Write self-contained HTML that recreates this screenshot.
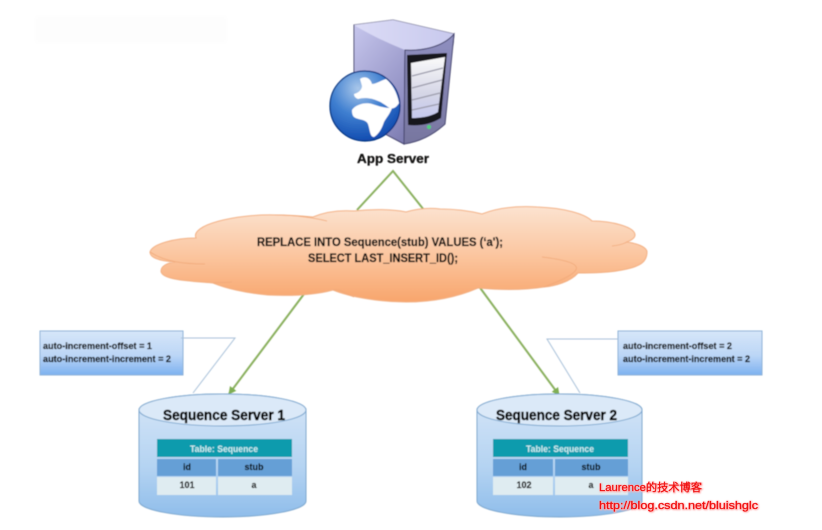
<!DOCTYPE html>
<html><head><meta charset="utf-8"><style>
html,body{margin:0;padding:0;background:#fff;width:822px;height:530px;overflow:hidden}
svg{display:block}
text{font-family:"Liberation Sans","Noto Sans CJK SC",sans-serif}
</style></head><body>
<svg width="822" height="530" viewBox="0 0 822 530" xmlns="http://www.w3.org/2000/svg">
<defs>
<linearGradient id="cl" x1="0" y1="0" x2="0" y2="1"><stop offset="0" stop-color="#fce3d0"/><stop offset=".5" stop-color="#fbc6a0"/><stop offset="1" stop-color="#f8a56c"/></linearGradient>
<linearGradient id="bx" x1="0" y1="0" x2="0" y2="1"><stop offset="0" stop-color="#d6e6f9"/><stop offset=".55" stop-color="#bcd6f6"/><stop offset="1" stop-color="#7db1f0"/></linearGradient>
<linearGradient id="cy" x1="0" y1="0" x2="0" y2="1"><stop offset="0" stop-color="#d6e6f7"/><stop offset=".6" stop-color="#b4d3f2"/><stop offset="1" stop-color="#8fbdea"/></linearGradient>
<linearGradient id="sv" x1="0" y1="0" x2="1" y2="1"><stop offset="0" stop-color="#c8c8ee"/><stop offset=".6" stop-color="#8d8cc0"/><stop offset="1" stop-color="#5d5c90"/></linearGradient>
<linearGradient id="sf" x1="0" y1="0" x2="0" y2="1"><stop offset="0" stop-color="#8f8fc0"/><stop offset="1" stop-color="#77769f"/></linearGradient>
<linearGradient id="st" x1="0" y1="0" x2="1" y2="0"><stop offset="0" stop-color="#dcdcf6"/><stop offset="1" stop-color="#c8c9ee"/></linearGradient>
<linearGradient id="sc" x1="0" y1="0" x2="0" y2="1"><stop offset="0" stop-color="#fafafa"/><stop offset=".6" stop-color="#d5d6e6"/><stop offset="1" stop-color="#c5c8ee"/></linearGradient>
<radialGradient id="gl" cx=".4" cy=".25" r=".85"><stop offset="0" stop-color="#a9c7ea"/><stop offset=".45" stop-color="#3f7fd0"/><stop offset="1" stop-color="#063fa8"/></radialGradient>
<marker id="ar" markerWidth="10" markerHeight="10" refX="7" refY="4" orient="auto" markerUnits="userSpaceOnUse"><path d="M0 0L8 4L0 8Z" fill="#7fae52"/></marker>
<filter id="b" x="-5%" y="-5%" width="110%" height="110%"><feGaussianBlur stdDeviation=".4"/></filter>
<filter id="b2" x="-5%" y="-5%" width="110%" height="110%"><feGaussianBlur stdDeviation="2"/></filter>
<filter id="b3" x="-5%" y="-20%" width="110%" height="140%"><feGaussianBlur stdDeviation=".7"/></filter>
</defs>
<rect width="822" height="530" fill="#fff"/>
<rect x="35" y="16" width="192" height="27" fill="#fdfdfd" filter="url(#b2)"/>
<g filter="url(#b)">
<!-- server -->
<path d="M354 25L393 20L454 34L453 45C440 50 420 50 405 50L404 144L385 134L354 112Z" fill="url(#sv)" stroke="#45456e" stroke-width="1"/>
<path d="M354 25L393 20L454 34C445 46 420 51 405 50C385 42 365 32 354 25Z" fill="url(#st)"/>
<path d="M405 50C420 51 442 48 454 34L445 124C432 136 418 142 404 144Z" fill="url(#sf)" stroke="#45456e" stroke-width="1"/>
<path d="M407 55L447 53L441 118C430 125 418 126 408 125Z" fill="#15151f"/>
<path d="M411 63L445 57L438 112C430 117 420 118 412 118Z" fill="url(#sc)"/>
<g stroke="#9b9bab" stroke-width="1.2" fill="none"><path d="M412 76L443 68M412 88L442 80M412 100L440 93M412 110L439 104"/></g>
<circle cx="429" cy="127" r="2" fill="#4fd07e"/>
<!-- globe -->
<circle cx="365" cy="106" r="35" fill="url(#gl)" stroke="#06307e" stroke-width="1.2"/>
<path d="M360 79C364 76 370 77 372 84C376 84 382 80 386 79C392 84 397 92 399 103C396 108 392 110 388 107C384 104 381 102 378 101C372 98 364 97 358 99C356 98 354 97 354 94C358 93 362 90 362 86Z" fill="#fff"/>
<path d="M352 110C356 104 366 102 372 104C378 106 384 108 392 108C390 114 386 118 384 122C382 128 379 134 374 137C370 137 370 130 368 124C366 119 358 120 354 117C352 115 352 112 352 110Z" fill="#fff"/>
<!-- connectors -->
<g stroke="#8ab05f" stroke-width="2" fill="none">
<path d="M357 210L393 171L424 210"/>
<path d="M304 294L229 394" marker-end="url(#ar)"/>
<path d="M478 285L559 395" marker-end="url(#ar)"/>
</g>
<!-- cloud -->
<path d="M150 252C152 244 175 238 196 238C190 225 235 214 275 215C290 215 302 216 313 217C325 212 340 210 354 211C372 209 392 209 406 212C420 208 432 208 440 209C455 209 470 211 482 214C500 207 520 206 537 207C565 208 585 214 592 221C612 221 635 227 635 235C635 238 632 240 627 242C640 244 647 248 647 252C647 262 640 266 627 269C610 273 590 273 578 273C570 282 555 286 544 287C525 290 500 290 478 288C455 298 430 302 406 302C380 302 350 297 333 290C315 295 290 296 268 295C245 293 225 288 213 283C190 281 161 280 161 271C161 266 167 263 175 262C160 261 150 258 150 252Z" fill="url(#cl)" stroke="#f3b083" stroke-width="1"/>
<g fill="none" stroke="#f0a878" stroke-width=".8">
<path d="M275 215C295 215 315 218 327 221M150 252C165 262 185 264 205 264M213 283C225 282 220 283 232 282M333 290C340 288 345 294 354 297M544 287C590 270 585 262 542 257M627 242C625 243 622 245 612 246"/>
</g>
<g fill="#100c0a" stroke="#100c0a" stroke-width=".25" font-weight="bold">
<text x="257" y="246" font-size="12" textLength="246" lengthAdjust="spacingAndGlyphs">REPLACE INTO Sequence(stub)  VALUES (‘a');</text>
<text x="308" y="262" font-size="12" textLength="150" lengthAdjust="spacingAndGlyphs">SELECT LAST_INSERT_ID();</text>
<text x="357" y="163" font-size="13" textLength="72" lengthAdjust="spacingAndGlyphs">App Server</text>
</g>
<!-- callouts -->
<rect x="40" y="331" width="143" height="44" fill="url(#bx)" stroke="#8fb2d8" stroke-width="1"/>
<path d="M181 338H235L193 393" fill="none" stroke="#a9c1d9" stroke-width="1"/>
<rect x="618" y="331" width="144" height="44" fill="url(#bx)" stroke="#8fb2d8" stroke-width="1"/>
<path d="M618 339H547L580 393" fill="none" stroke="#a9c1d9" stroke-width="1"/>
<g font-size="9" font-weight="bold" fill="#000" stroke="#000" stroke-width=".2">
<text x="43" y="349" textLength="109" lengthAdjust="spacingAndGlyphs">auto-increment-offset = 1</text>
<text x="43" y="362" textLength="128" lengthAdjust="spacingAndGlyphs">auto-increment-increment = 2</text>
<text x="623" y="349" textLength="109" lengthAdjust="spacingAndGlyphs">auto-increment-offset = 2</text>
<text x="623" y="362" textLength="127" lengthAdjust="spacingAndGlyphs">auto-increment-increment = 2</text>
</g>
<!-- cylinder 1 -->
<path d="M139 410A83.5 16 0 0 1 306 410V501A83.5 16 0 0 1 139 501Z" fill="url(#cy)" stroke="#7ea8cf" stroke-width="1"/>
<ellipse cx="222.5" cy="410" rx="83.5" ry="16" fill="#dbe9f8" stroke="#7ea8cf" stroke-width="1"/>
<text x="163" y="420" font-size="15" font-weight="bold" fill="#000" stroke="#000" stroke-width=".5" textLength="122" lengthAdjust="spacingAndGlyphs">Sequence Server 1</text>
<rect x="157" y="439" width="135" height="18" fill="#0f9bad"/>
<rect x="157" y="459" width="59" height="17" fill="#659fd6"/><rect x="218" y="459" width="74" height="17" fill="#659fd6"/>
<rect x="157" y="477" width="59" height="18" fill="#dfecf1"/><rect x="218" y="477" width="74" height="18" fill="#dfecf1"/>
<text x="224" y="452" font-size="9" font-weight="bold" fill="#cdeef2" text-anchor="middle" textLength="68" lengthAdjust="spacingAndGlyphs">Table: Sequence</text>
<g font-size="9" font-weight="bold" fill="#000" stroke="#000" stroke-width=".15" text-anchor="middle">
<text x="187" y="470">id</text><text x="254" y="470">stub</text><text x="187" y="488">101</text><text x="254" y="488">a</text>
</g>
<!-- cylinder 2 -->
<path d="M477 410A82.5 16 0 0 1 642 410V501A82.5 16 0 0 1 477 501Z" fill="url(#cy)" stroke="#7ea8cf" stroke-width="1"/>
<ellipse cx="559.5" cy="410" rx="82.5" ry="16" fill="#dbe9f8" stroke="#7ea8cf" stroke-width="1"/>
<text x="496" y="420" font-size="15" font-weight="bold" fill="#000" stroke="#000" stroke-width=".5" textLength="121" lengthAdjust="spacingAndGlyphs">Sequence Server 2</text>
<rect x="493" y="439" width="135" height="18" fill="#0f9bad"/>
<rect x="493" y="459" width="60" height="17" fill="#659fd6"/><rect x="555" y="459" width="73" height="17" fill="#659fd6"/>
<rect x="493" y="477" width="60" height="18" fill="#dfecf1"/><rect x="555" y="477" width="73" height="18" fill="#dfecf1"/>
<text x="560" y="452" font-size="9" font-weight="bold" fill="#cdeef2" text-anchor="middle" textLength="68" lengthAdjust="spacingAndGlyphs">Table: Sequence</text>
<g font-size="9" font-weight="bold" fill="#000" stroke="#000" stroke-width=".15" text-anchor="middle">
<text x="523" y="470">id</text><text x="591" y="470">stub</text><text x="524" y="488">102</text><text x="591" y="488">a</text>
</g>
</g>
<!-- watermark -->
<g font-size="11" fill="#ffb4b4" stroke="#ffb4b4" stroke-width="1.4" filter="url(#b3)" transform="translate(.5 .5)">
<text x="599" y="491" textLength="103" lengthAdjust="spacingAndGlyphs">Laurence的技术博客</text>
<text x="599" y="509" textLength="159" lengthAdjust="spacingAndGlyphs">http://blog.csdn.net/bluishglc</text>
</g>
<g font-size="11" fill="#f01010" stroke="#f01010" stroke-width=".25">
<text x="599" y="491" textLength="103" lengthAdjust="spacingAndGlyphs">Laurence的技术博客</text>
<text x="599" y="509" textLength="159" lengthAdjust="spacingAndGlyphs">http://blog.csdn.net/bluishglc</text>
</g>
</svg>
</body></html>
